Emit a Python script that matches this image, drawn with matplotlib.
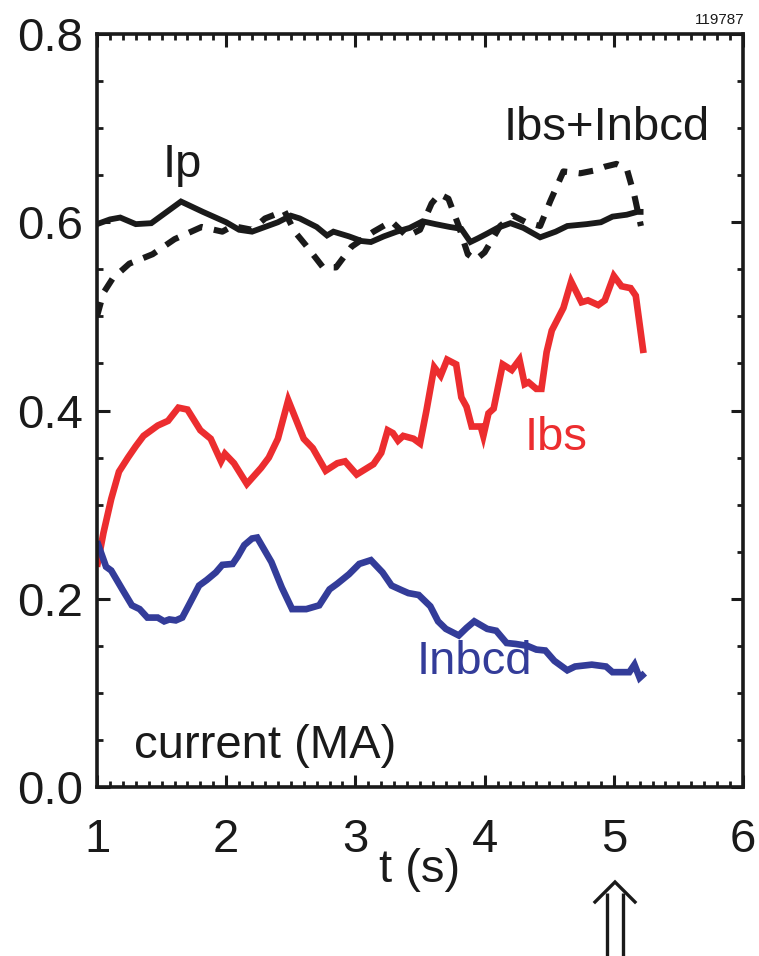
import matplotlib
matplotlib.use("Agg")
import matplotlib.pyplot as plt
from matplotlib.lines import Line2D
from matplotlib.ticker import MultipleLocator

plt.rcParams['font.family'] = ['Liberation Sans', 'DejaVu Sans']

# Plasma current Ip (MA)
t_ip = [1.00, 1.10, 1.18, 1.30, 1.42, 1.55, 1.65, 1.82, 2.00, 2.10, 2.20, 2.32, 2.40,
        2.50, 2.57, 2.70, 2.78, 2.83, 2.95, 3.05, 3.12, 3.22, 3.32, 3.42, 3.52, 3.62,
        3.73, 3.82, 3.89, 3.95, 4.02, 4.10, 4.20, 4.30, 4.43, 4.55, 4.64, 4.79, 4.90,
        4.99, 5.10, 5.18, 5.23]
ip = [0.598, 0.603, 0.605, 0.598, 0.599, 0.612, 0.622, 0.611, 0.600, 0.592, 0.590,
      0.596, 0.600, 0.607, 0.604, 0.595, 0.586, 0.590, 0.585, 0.580, 0.579, 0.585,
      0.590, 0.594, 0.601, 0.598, 0.595, 0.593, 0.579, 0.583, 0.588, 0.594, 0.599,
      0.594, 0.584, 0.590, 0.596, 0.598, 0.600, 0.606, 0.608, 0.611, 0.611]

# Total non-inductive current Ibs + Inbcd (MA)
t_sum = [1.00, 1.05, 1.12, 1.25, 1.43, 1.60, 1.81, 1.97, 2.05, 2.20, 2.30, 2.45, 2.53,
         2.62, 2.75, 2.85, 2.97, 3.14, 3.28, 3.40, 3.50, 3.59, 3.65, 3.72, 3.80, 3.87,
         3.93, 4.00, 4.12, 4.22, 4.32, 4.43, 4.51, 4.61, 4.74, 4.85, 4.93, 5.02, 5.10,
         5.16, 5.21]
i_sum = [0.500, 0.525, 0.540, 0.556, 0.566, 0.582, 0.595, 0.590, 0.596, 0.592, 0.604,
         0.612, 0.590, 0.575, 0.552, 0.552, 0.574, 0.590, 0.601, 0.585, 0.592, 0.620,
         0.630, 0.625, 0.596, 0.566, 0.560, 0.568, 0.596, 0.607, 0.600, 0.596, 0.623,
         0.654, 0.652, 0.655, 0.659, 0.662, 0.657, 0.628, 0.596]

# Bootstrap current Ibs (MA)
t_bs = [1.00, 1.05, 1.11, 1.17, 1.24, 1.30, 1.36, 1.47, 1.55, 1.63, 1.70, 1.80, 1.88,
        1.96, 1.99, 2.06, 2.16, 2.27, 2.33, 2.40, 2.48, 2.60, 2.67, 2.77, 2.86, 2.92,
        3.01, 3.14, 3.20, 3.25, 3.29, 3.33, 3.37, 3.45, 3.50, 3.55, 3.61, 3.66, 3.71,
        3.78, 3.82, 3.86, 3.90, 3.97, 3.99, 4.03, 4.07, 4.14, 4.21, 4.27, 4.31, 4.34,
        4.40, 4.44, 4.48, 4.52, 4.61, 4.67, 4.75, 4.80, 4.88, 4.93, 5.00, 5.06, 5.13,
        5.17, 5.23]
i_bs = [0.234, 0.270, 0.306, 0.335, 0.350, 0.362, 0.373, 0.384, 0.389, 0.403, 0.401,
        0.379, 0.370, 0.346, 0.354, 0.344, 0.322, 0.339, 0.350, 0.370, 0.411, 0.370,
        0.360, 0.336, 0.344, 0.346, 0.332, 0.343, 0.355, 0.379, 0.376, 0.368, 0.373,
        0.370, 0.365, 0.400, 0.446, 0.437, 0.454, 0.449, 0.414, 0.404, 0.383, 0.383,
        0.373, 0.397, 0.402, 0.449, 0.443, 0.454, 0.428, 0.430, 0.423, 0.423, 0.462,
        0.485, 0.509, 0.537, 0.515, 0.517, 0.512, 0.517, 0.543, 0.532, 0.530, 0.522,
        0.461]

# Neutral-beam driven current Inbcd (MA)
t_nb = [1.00, 1.07, 1.11, 1.20, 1.27, 1.33, 1.39, 1.47, 1.52, 1.56, 1.61, 1.66, 1.71,
        1.79, 1.85, 1.92, 1.97, 2.05, 2.09, 2.14, 2.20, 2.24, 2.35, 2.43, 2.51, 2.62,
        2.72, 2.80, 2.86, 2.95, 3.03, 3.12, 3.21, 3.28, 3.36, 3.41, 3.49, 3.55, 3.58,
        3.64, 3.70, 3.80, 3.86, 3.92, 4.02, 4.09, 4.17, 4.24, 4.33, 4.40, 4.47, 4.54,
        4.64, 4.70, 4.83, 4.94, 4.99, 5.12, 5.16, 5.20, 5.24]
i_nb = [0.261, 0.234, 0.230, 0.209, 0.193, 0.189, 0.180, 0.180, 0.176, 0.178, 0.177,
        0.180, 0.193, 0.214, 0.220, 0.228, 0.236, 0.237, 0.245, 0.257, 0.264, 0.265,
        0.239, 0.212, 0.189, 0.189, 0.193, 0.210, 0.216, 0.226, 0.237, 0.241, 0.228,
        0.214, 0.209, 0.206, 0.204, 0.196, 0.192, 0.176, 0.168, 0.161, 0.169, 0.176,
        0.168, 0.166, 0.153, 0.152, 0.150, 0.146, 0.145, 0.134, 0.124, 0.128, 0.130,
        0.128, 0.122, 0.122, 0.130, 0.116, 0.121]

x_ticks = [1, 2, 3, 4, 5, 6]
y_ticks = [0.0, 0.2, 0.4, 0.6, 0.8]
y_ticklabels = ["0.0", "0.2", "0.4", "0.6", "0.8"]

BLACK = "#1a1a1a"
RED = "#ec2d2f"
BLUE = "#333c99"
FS = 34

W, H = 759, 956
fig = plt.figure(figsize=(W / 100, H / 100), dpi=100)
ax = fig.add_axes([97 / W, 1 - 787 / H, (743 - 97) / W, (787 - 34) / H])

ax.plot(t_bs, i_bs, color=RED, lw=4.8, solid_joinstyle='miter', solid_capstyle='butt')
ax.plot(t_nb, i_nb, color=BLUE, lw=4.8, solid_joinstyle='miter', solid_capstyle='butt')
ax.plot(t_sum, i_sum, color=BLACK, lw=4.4, linestyle=(0, (2.4, 1.9)),
        dash_capstyle='butt')
ax.plot(t_ip, ip, color=BLACK, lw=4.2, solid_joinstyle='miter', solid_capstyle='butt')

ax.set_xlim(1, 6)
ax.set_ylim(0, 0.8)
ax.set_xticks(x_ticks)
ax.set_xticklabels([str(v) for v in x_ticks])
ax.set_yticks(y_ticks)
ax.set_yticklabels(y_ticklabels)
ax.xaxis.set_minor_locator(MultipleLocator(0.1))
ax.yaxis.set_minor_locator(MultipleLocator(0.05))

for s in ax.spines.values():
    s.set_linewidth(2.6)
    s.set_color(BLACK)
ax.tick_params(which='both', direction='in', top=True, right=True, color=BLACK)
ax.tick_params(which='major', length=9, width=2.2, labelsize=FS, labelcolor=BLACK)
ax.tick_params(axis='x', which='major', pad=22)
ax.tick_params(axis='y', which='major', pad=10)
ax.tick_params(which='minor', length=4, width=2.0)

ax.set_xlabel("t (s)", fontsize=FS, color=BLACK, labelpad=-10)

ax.text(1.66, 0.661, "Ip", fontsize=FS, color=BLACK, ha='center', va='center')
ax.text(5.745, 0.700, "Ibs+Inbcd", fontsize=FS, color=BLACK, ha='right', va='center')
ax.text(4.55, 0.371, "Ibs", fontsize=FS, color=RED, ha='center', va='center')
ax.text(3.92, 0.133, "Inbcd", fontsize=FS, color=BLUE, ha='center', va='center')
ax.text(0.058, 0.054, "current (MA)", fontsize=FS, color=BLACK, ha='left', va='center',
        transform=ax.transAxes)

fig.text(745 / W, 1 - 20 / H, "119787", fontsize=11, color=BLACK, ha='right',
         va='center')

# Double arrow below the time axis marking t = 5 s
def fx(px):
    return px / W

def fy(py):
    return 1 - py / H

for xp in (607, 623):
    fig.add_artist(Line2D([fx(xp), fx(xp)], [fy(893), fy(956)], color=BLACK, lw=2.4,
                          solid_capstyle='butt'))
fig.add_artist(Line2D([fx(595), fx(615), fx(635)], [fy(902), fy(882), fy(902)],
                      color=BLACK, lw=2.4, solid_joinstyle='miter'))

fig.savefig("out.png", dpi=100)
